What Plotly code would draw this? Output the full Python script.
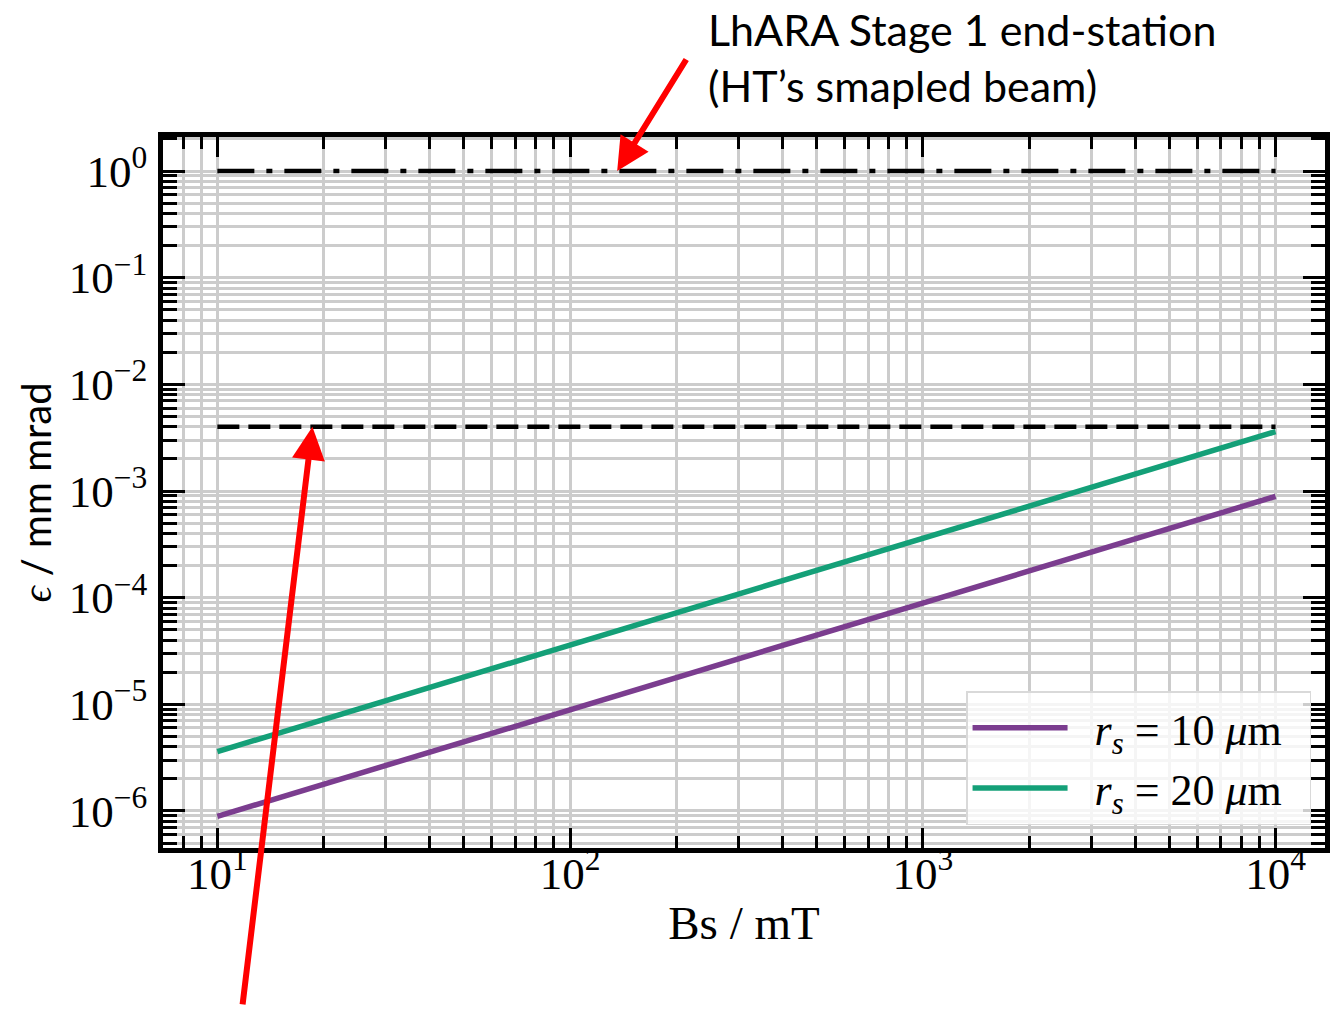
import numpy as np
import plotly.graph_objects as go

# ---- data ----
bs_mT = [10, 100, 1000, 10000]
eps_rs10 = [8.9e-7, 8.9e-6, 8.9e-5, 8.9e-4]
eps_rs20 = [3.6e-6, 3.6e-5, 3.6e-4, 3.6e-3]
level_x = [10, 10000]
lhara_endstation = [1.0, 1.0]
threshold_level = [4.0e-3, 4.0e-3]

legend_names = ["&nbsp;&nbsp;<i>r</i><sub><i>s</i></sub> = 10 <i>μ</i>m&nbsp;&nbsp;",
                "&nbsp;&nbsp;<i>r</i><sub><i>s</i></sub> = 20 <i>μ</i>m&nbsp;&nbsp;"]
x_tickvals = [10, 100, 1000, 10000]
x_ticktext = ["10<sup>1</sup>", "10<sup>2</sup>", "10<sup>3</sup>", "10<sup>4</sup>"]
y_tickvals = [1e0, 1e-1, 1e-2, 1e-3, 1e-4, 1e-5, 1e-6]
y_ticktext = ["10<sup>0</sup>", "10<sup>−1</sup>", "10<sup>−2</sup>", "10<sup>−3</sup>",
              "10<sup>−4</sup>", "10<sup>−5</sup>", "10<sup>−6</sup>"]

# arrow tips (data) and tail offsets (px)
arrow_tips = [(136, 1.0), (18.6, 4.0e-3)]
arrow_offsets = [(70, -113), (-70, 579)]

SERIF = "Liberation Serif"
SANS = "Lato"

fig = go.Figure()
fig.add_trace(go.Scatter(x=level_x, y=lhara_endstation, mode="lines",
                         line=dict(color="black", width=4.5, dash="37px,12px,6px,12px"),
                         showlegend=False, hoverinfo="skip"))
fig.add_trace(go.Scatter(x=level_x, y=threshold_level, mode="lines",
                         line=dict(color="black", width=4.5, dash="22px,9px"),
                         showlegend=False, hoverinfo="skip"))
fig.add_trace(go.Scatter(x=bs_mT, y=eps_rs10, mode="lines", name=legend_names[0],
                         line=dict(color="#7b3d8f", width=5.5)))
fig.add_trace(go.Scatter(x=bs_mT, y=eps_rs20, mode="lines", name=legend_names[1],
                         line=dict(color="#14a078", width=5.5)))

grid_col = "#cccccc"
common = dict(type="log", showline=True, linewidth=4.5, linecolor="black", mirror="allticks",
              ticks="inside", tickcolor="black", tickwidth=3,
              showgrid=True, gridcolor=grid_col, gridwidth=2.5, zeroline=False,
              tickfont=dict(family=SERIF, size=45, color="black"))

fig.update_xaxes(**common, range=[0.8459, 4.1402],
                 tickvals=x_tickvals, ticktext=x_ticktext, ticklen=20, ticklabelstandoff=-18,
                 minor=dict(dtick="D1", ticks="inside", ticklen=12, tickwidth=3, tickcolor="black",
                            showgrid=True, gridcolor=grid_col, gridwidth=2.5),
                 title=dict(text="Bs / mT", font=dict(family=SERIF, size=47, color="black"), standoff=10))
fig.update_yaxes(**common, range=[-6.347, 0.319],
                 tickvals=y_tickvals, ticktext=y_ticktext, ticklen=22, ticklabelstandoff=2,
                 minor=dict(dtick="D1", ticks="inside", ticklen=14, tickwidth=3, tickcolor="black",
                            showgrid=True, gridcolor=grid_col, gridwidth=2.5),
                 title=dict(text="<span style='font-family:Liberation Serif'><i>ϵ</i></span> / mm mrad",
                            font=dict(family=SANS, size=40, color="black"), standoff=6))

annotations = [dict(xref="paper", yref="paper", x=0.467, y=1.19, xanchor="left", yanchor="top",
                    align="left", showarrow=False,
                    text="LhARA Stage 1 end-station<br>(HT’s smapled beam)",
                    font=dict(family=SANS, size=43, color="black"))]
for (tx, ty), (ox, oy) in zip(arrow_tips, arrow_offsets):
    annotations.append(dict(x=np.log10(tx), y=np.log10(ty), xref="x", yref="y", text="",
                            showarrow=True, ax=ox, ay=oy, arrowcolor="#ff0000", arrowwidth=6,
                            arrowhead=2, arrowsize=1.1, standoff=0))

fig.update_layout(width=1338, height=1009, margin=dict(l=163, r=8, t=137, b=161),
                  plot_bgcolor="white", paper_bgcolor="white",
                  annotations=annotations,
                  legend=dict(x=0.988, y=0.032, xanchor="right", yanchor="bottom",
                              bgcolor="rgba(255,255,255,0.8)", bordercolor="#d9d9d9", borderwidth=1.5,
                              font=dict(family=SERIF, size=44, color="black"),
                              itemwidth=95))

fig.write_html("out.html", config={"displayModeBar": False},
               post_script="document.body.style.margin='0';document.body.style.overflow='hidden';")
